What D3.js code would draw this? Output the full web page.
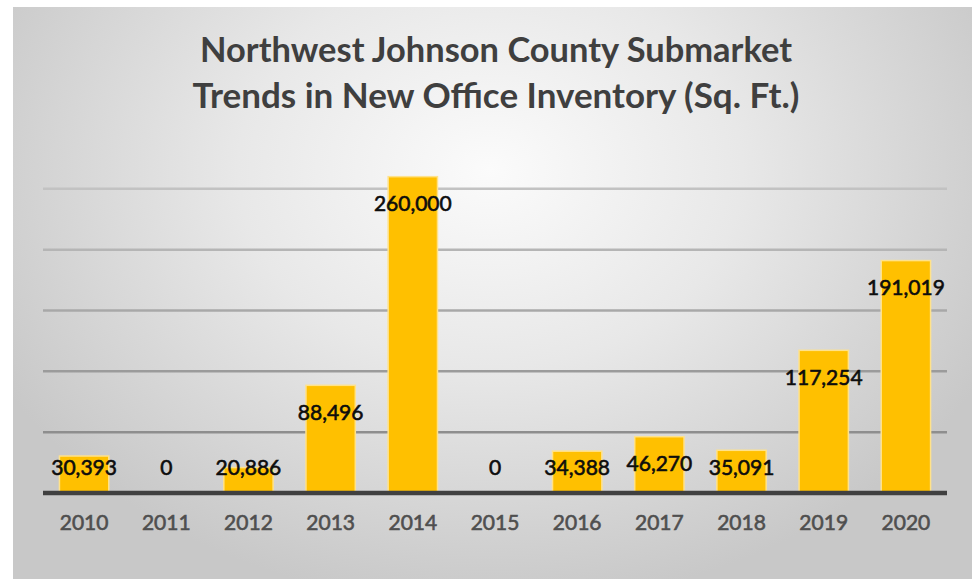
<!DOCTYPE html>
<html>
<head>
<meta charset="utf-8">
<script src="https://cdn.jsdelivr.net/npm/d3@7"></script>
<style>
  html, body { margin: 0; padding: 0; background: #ffffff; }
  svg { display: block; }
</style>
</head>
<body>
<svg id="chart" width="974" height="579"></svg>
<script>
// New office inventory delivered per year, Northwest Johnson County submarket
const years = ["2010", "2011", "2012", "2013", "2014", "2015", "2016", "2017", "2018", "2019", "2020"];
const sqft = [30393, 0, 20886, 88496, 260000, 0, 34388, 46270, 35091, 117254, 191019];
const gridValues = [50000, 100000, 150000, 200000, 250000];
const titleLines = ["Northwest Johnson County Submarket", "Trends in New Office Inventory (Sq. Ft.)"];

const W = 974, H = 579;
const svg = d3.select("#chart");
const fontFamily = "Lato, 'Open Sans', 'Noto Sans', sans-serif";

// Soft radial backdrop of the chart frame
const defs = svg.append("defs");
const bg = defs.append("radialGradient")
  .attr("id", "bgGrad")
  .attr("gradientUnits", "userSpaceOnUse")
  .attr("cx", 490).attr("cy", 170).attr("r", 560)
  .attr("gradientTransform", "translate(490,170) scale(1,0.78) translate(-490,-170)");
bg.append("stop").attr("offset", "0%").attr("stop-color", "#fbfbfb");
bg.append("stop").attr("offset", "45%").attr("stop-color", "#e8e8e8");
bg.append("stop").attr("offset", "100%").attr("stop-color", "#c8c8c8");

svg.append("rect")
  .attr("x", 13).attr("y", 7)
  .attr("width", 959).attr("height", 572)
  .attr("fill", "url(#bgGrad)");

// Plot area
const plot = { left: 43, right: 947, top: 128, bottom: 493 };

const x = d3.scaleBand()
  .domain(years)
  .range([plot.left, plot.right])
  .paddingInner(0.4)
  .paddingOuter(0.2);

const y = d3.scaleLinear()
  .domain([0, 300000])
  .range([plot.bottom, plot.top]);

// Horizontal gridlines
const gridShade = d3.scaleLinear().domain([50000, 250000]).range(["#8e8e8e", "#c2c2c2"]);
svg.append("g").selectAll("line")
  .data(gridValues)
  .join("line")
  .attr("x1", plot.left).attr("x2", plot.right)
  .attr("y1", d => y(d)).attr("y2", d => y(d))
  .attr("stroke", d => gridShade(d))
  .attr("stroke-width", 2.5);

// Bars
const data = years.map((yr, i) => ({ year: yr, value: sqft[i] }));
svg.append("g").selectAll("rect")
  .data(data.filter(d => d.value > 0))
  .join("rect")
  .attr("x", d => x(d.year))
  .attr("y", d => y(d.value))
  .attr("width", x.bandwidth())
  .attr("height", d => y(0) - y(d.value))
  .attr("fill", "#ffc000")
  .attr("stroke", "#ffe28a")
  .attr("stroke-width", 1.5);

// Baseline
svg.append("line")
  .attr("x1", plot.left).attr("x2", plot.right)
  .attr("y1", y(0)).attr("y2", y(0))
  .attr("stroke", "#404040")
  .attr("stroke-width", 4.5);

// Category axis labels
const xAxis = d3.axisBottom(x).tickSize(0).tickPadding(0);
const xg = svg.append("g")
  .attr("transform", `translate(0,${y(0) + 37})`)
  .call(xAxis);
xg.select(".domain").remove();
xg.selectAll("text")
  .attr("dy", 0)
  .attr("font-family", fontFamily)
  .attr("font-size", 21)
  .attr("fill", "#4f4f4f")
  .attr("stroke", "#4f4f4f")
  .attr("stroke-width", 0.6);

// Value labels, set just inside the top of each bar
const fmt = d3.format(",");
svg.append("g").selectAll("text")
  .data(data)
  .join("text")
  .attr("x", d => x(d.year) + x.bandwidth() / 2)
  .attr("y", d => Math.min(y(d.value) + 27, y(0) - 26) + 7.5)
  .attr("text-anchor", "middle")
  .attr("font-family", fontFamily)
  .attr("font-size", 21)
  .attr("fill", "#0d0d0d")
  .attr("stroke", "#0d0d0d")
  .attr("stroke-width", 0.6)
  .text(d => fmt(d.value));

// Two-line title
const title = svg.append("g");
const titleTargets = [592, 607];
titleLines.forEach((line, i) => {
  const t = title.append("text")
    .attr("x", 496)
    .attr("y", 62 + i * 46)
    .attr("text-anchor", "middle")
    .attr("font-family", fontFamily)
    .attr("font-weight", 700)
    .attr("font-size", 31)
    .attr("fill", "#3f3f3f")
    .text(line);
  const len = t.node().getComputedTextLength();
  t.attr("font-size", 31 * titleTargets[i] / len);
});
</script>
</body>
</html>
